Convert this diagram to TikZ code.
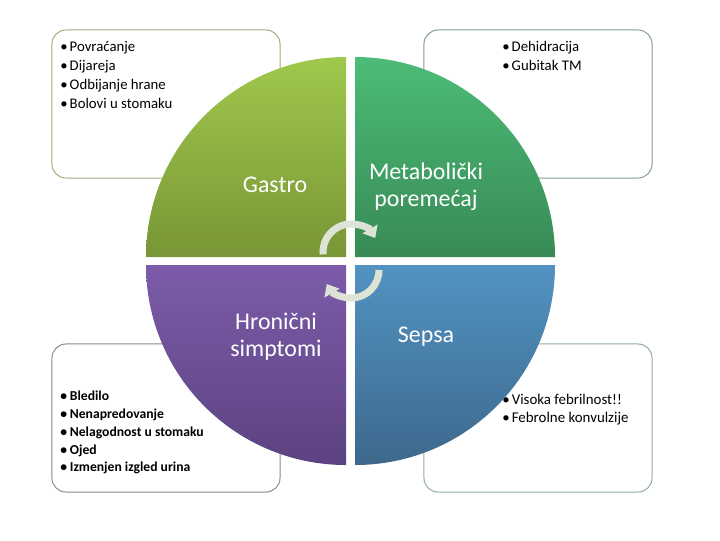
\documentclass[tikz,border=0pt]{standalone}
\usepackage{fontspec}
\setmainfont{Carlito}
\usetikzlibrary{arrows.meta}

\definecolor{gastrotop}{HTML}{A0C84C}
\definecolor{gastrobot}{HTML}{789636}
\definecolor{metatop}{HTML}{4CBC77}
\definecolor{metabot}{HTML}{388A56}
\definecolor{hrontop}{HTML}{7C5CA9}
\definecolor{hronbot}{HTML}{5C4281}
\definecolor{sepsatop}{HTML}{5293C2}
\definecolor{sepsabot}{HTML}{3D688C}
\definecolor{gastroline}{HTML}{A3A97C}
\definecolor{metaline}{HTML}{7E9C98}
\definecolor{hronline}{HTML}{8C8593}
\definecolor{sepsaline}{HTML}{8DAAA6}
\definecolor{arrowgray}{HTML}{DDE4D6}

\tikzset{
    infobox/.style={draw, rounded corners=10pt, line width=0.7pt, minimum width=5.7cm, minimum height=3.7cm, inner sep=0pt},
    bullets/.style={anchor=north west, align=left, inner sep=0pt, font=\fontsize{10.5}{13.5}\selectfont},
    quadtext/.style={text=white, align=center, inner sep=0pt, font=\fontsize{17}{19}\selectfont},
    cyclearrow/.style={line width=5pt, draw=arrowgray, -{Triangle[length=7.5pt,width=12pt]}}
}

\begin{document}
\begin{tikzpicture}[x=0.025cm, y=-0.025cm]
    \useasboundingbox (0,0) rectangle (720,540);
    % boxes behind the circle
    \node [infobox, draw=gastroline] (gastrobox) at (166,104) {};
    \node [infobox, draw=metaline] (metabox) at (538,104) {};
    \node [infobox, draw=hronline] (hronbox) at (166,418) {};
    \node [infobox, draw=sepsaline] (sepsabox) at (538,418) {};
    \node [bullets] (gastrolist) at (60,41) {\textbullet\hspace{1.5pt}Povraćanje\\ \textbullet\hspace{1.5pt}Dijareja\\ \textbullet\hspace{1.5pt}Odbijanje hrane\\ \textbullet\hspace{1.5pt}Bolovi u stomaku};
    \node [bullets] (metalist) at (502,41) {\textbullet\hspace{1.5pt}Dehidracija\\ \textbullet\hspace{1.5pt}Gubitak TM};
    \node [bullets, font=\fontsize{9.7}{12.6}\selectfont\bfseries] (hronlist) at (60,391) {\textbullet\hspace{2pt}Bledilo\\ \textbullet\hspace{2pt}Nenapredovanje\\ \textbullet\hspace{2pt}Nelagodnost u stomaku\\ \textbullet\hspace{2pt}Ojed\\ \textbullet\hspace{2pt}Izmenjen izgled urina};
    \node [bullets, font=\fontsize{10.6}{13}\selectfont] (sepsalist) at (502,394) {\textbullet\hspace{1.5pt}Visoka febrilnost!!\\ \textbullet\hspace{1.5pt}Febrolne konvulzije};
    % four quarters
    \shade [top color=gastrotop, bottom color=gastrobot] (346,257) -- (146,257) arc [start angle=180, end angle=270, radius=200] -- cycle;
    \shade [top color=metatop, bottom color=metabot] (355,257) -- (355,57) arc [start angle=270, end angle=360, radius=200] -- cycle;
    \shade [top color=sepsatop, bottom color=sepsabot] (355,265) -- (555,265) arc [start angle=0, end angle=90, radius=200] -- cycle;
    \shade [top color=hrontop, bottom color=hronbot] (346,265) -- (346,465) arc [start angle=90, end angle=180, radius=200] -- cycle;
    \node [quadtext] (gastro) at (275,185) {Gastro};
    \node [quadtext] (meta) at (426,187) {Metabolički\\poremećaj};
    \node [quadtext] (hron) at (276,337) {Hronični\\simptomi};
    \node [quadtext] (sepsa) at (426,337) {Sepsa};
    % cycle arrows
    \draw [cyclearrow] (351,252) ++(175:28) arc [start angle=175, end angle=330, radius=28];
    \draw [cyclearrow] (351,270) ++(0:28) arc [start angle=0, end angle=150, radius=28];
\end{tikzpicture}
\end{document}
